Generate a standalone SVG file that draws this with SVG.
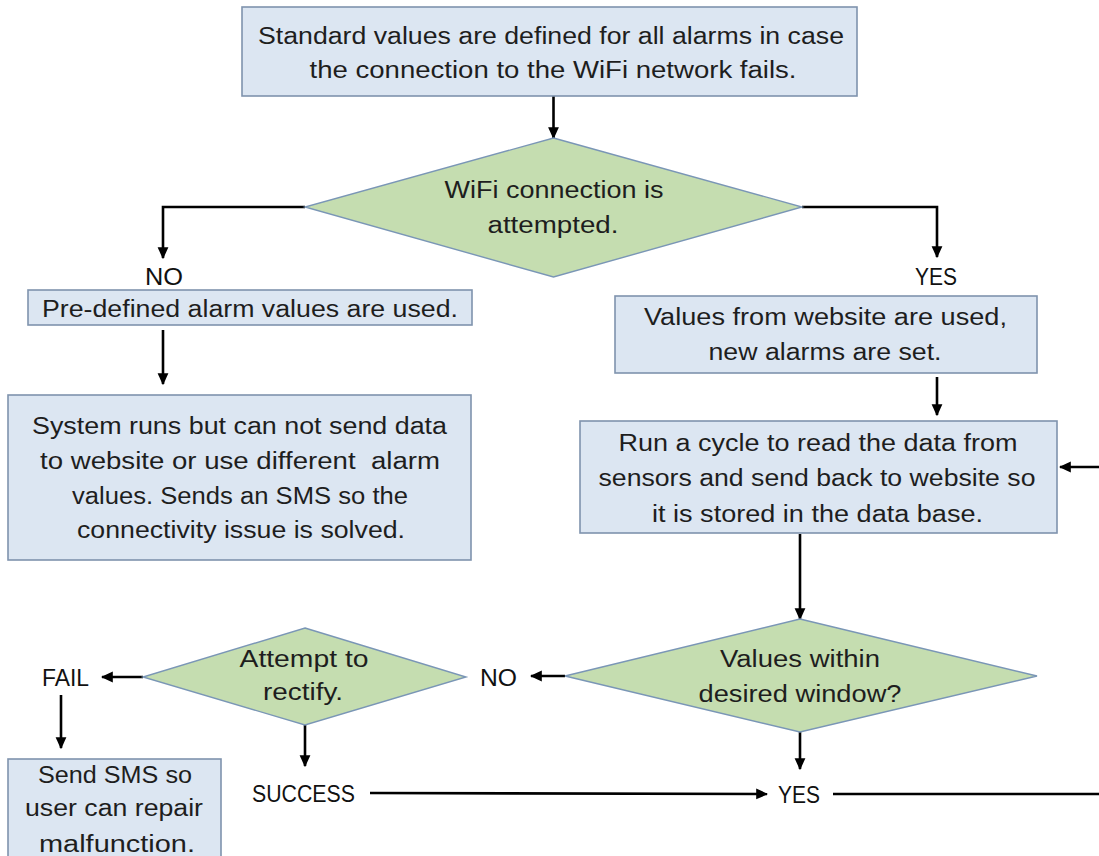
<svg xmlns="http://www.w3.org/2000/svg" width="1099" height="856" viewBox="0 0 1099 856">
<defs>
<style>
.box{fill:#dce6f2;stroke:#7f93ad;stroke-width:1.6}
.dia{fill:#c5ddb0;stroke:#7a96b6;stroke-width:1.4}
text{font-family:"Liberation Sans",Arial,sans-serif;font-size:23px;fill:#1e1e1e;text-anchor:middle}
.lbl{fill:#111}
.con{fill:none;stroke:#000;stroke-width:2.6}
.arr{marker-end:url(#ah)}
</style>
<marker id="ah" markerUnits="userSpaceOnUse" markerWidth="12" markerHeight="12" viewBox="0 0 10 10" refX="9" refY="5" orient="auto">
<path d="M0,0.5 L10,5 L0,9.5 Z" fill="#000"/>
</marker>
</defs>
<rect width="1099" height="856" fill="#ffffff"/>

<g id="connectors">
<path class="con arr" d="M553.5,96 V138"/>
<path class="con arr" d="M305,207 H163 V258"/>
<path class="con arr" d="M802,207 H937 V257"/>
<path class="con arr" d="M163,330 V384"/>
<path class="con arr" d="M937,377 V415"/>
<path class="con arr" d="M1099,467 H1060"/>
<path class="con arr" d="M800,534 V619"/>
<path class="con arr" d="M565,676 H531"/>
<path class="con arr" d="M143,677 H102"/>
<path class="con arr" d="M61,695 V748"/>
<path class="con arr" d="M305,725 V766"/>
<path class="con arr" d="M370,793 L767,794"/>
<path class="con arr" d="M800,732 V769"/>
<path class="con" d="M833,794 H1099"/>
</g>

<g id="n-standard">
<rect class="box" x="242" y="7" width="615" height="89"/>
<text x="551" y="44" textLength="586" lengthAdjust="spacingAndGlyphs">Standard values are defined for all alarms in case</text>
<text x="553" y="78" textLength="487" lengthAdjust="spacingAndGlyphs">the connection to the WiFi network fails.</text>
</g>

<g id="n-wifi">
<polygon class="dia" points="553.5,138 802,207 553.5,277 305,207"/>
<text x="554" y="198" textLength="219" lengthAdjust="spacingAndGlyphs">WiFi connection is</text>
<text x="553" y="233" textLength="131" lengthAdjust="spacingAndGlyphs">attempted.</text>
</g>

<g id="l-no1"><text class="lbl" x="164" y="285" textLength="38" lengthAdjust="spacingAndGlyphs">NO</text></g>
<g id="l-yes1"><text class="lbl" x="936" y="285" textLength="42" lengthAdjust="spacingAndGlyphs">YES</text></g>

<g id="n-predefined">
<rect class="box" x="28" y="290" width="444" height="35"/>
<text x="250" y="317" textLength="416" lengthAdjust="spacingAndGlyphs">Pre-defined alarm values are used.</text>
</g>

<g id="n-system">
<rect class="box" x="8" y="395" width="463" height="165"/>
<text x="239.5" y="434" textLength="415" lengthAdjust="spacingAndGlyphs">System runs but can not send data</text>
<text x="240" y="469" textLength="400" lengthAdjust="spacingAndGlyphs" xml:space="preserve" style="white-space:pre">to website or use different  alarm</text>
<text x="240" y="504" textLength="336" lengthAdjust="spacingAndGlyphs">values. Sends an SMS so the</text>
<text x="241" y="538" textLength="328" lengthAdjust="spacingAndGlyphs">connectivity issue is solved.</text>
</g>

<g id="n-website">
<rect class="box" x="615" y="296" width="422" height="77"/>
<text x="825.5" y="325" textLength="363" lengthAdjust="spacingAndGlyphs">Values from website are used,</text>
<text x="825" y="360" textLength="233" lengthAdjust="spacingAndGlyphs">new alarms are set.</text>
</g>

<g id="n-cycle">
<rect class="box" x="580" y="421" width="477" height="112"/>
<text x="818" y="451" textLength="399" lengthAdjust="spacingAndGlyphs">Run a cycle to read the data from</text>
<text x="817" y="486" textLength="437" lengthAdjust="spacingAndGlyphs">sensors and send back to website so</text>
<text x="817.5" y="522" textLength="331" lengthAdjust="spacingAndGlyphs">it is stored in the data base.</text>
</g>

<g id="n-window">
<polygon class="dia" points="800,619 1037,676 800,732 565,676"/>
<text x="800" y="667" textLength="160" lengthAdjust="spacingAndGlyphs">Values within</text>
<text x="800" y="702" textLength="203" lengthAdjust="spacingAndGlyphs">desired window?</text>
</g>

<g id="n-rectify">
<polygon class="dia" points="305,628 466,677 305,725 143,677"/>
<text x="304" y="667" textLength="129" lengthAdjust="spacingAndGlyphs">Attempt to</text>
<text x="303" y="700" textLength="80" lengthAdjust="spacingAndGlyphs">rectify.</text>
</g>

<g id="l-no2"><text class="lbl" x="498.5" y="686" textLength="37" lengthAdjust="spacingAndGlyphs">NO</text></g>
<g id="l-fail"><text class="lbl" x="65.5" y="686" textLength="47" lengthAdjust="spacingAndGlyphs">FAIL</text></g>
<g id="l-success"><text class="lbl" x="303.5" y="802" textLength="103" lengthAdjust="spacingAndGlyphs">SUCCESS</text></g>
<g id="l-yes2"><text class="lbl" x="799" y="803" textLength="42" lengthAdjust="spacingAndGlyphs">YES</text></g>

<g id="n-sms">
<rect class="box" x="8" y="759" width="213" height="105"/>
<text x="115" y="783" textLength="154" lengthAdjust="spacingAndGlyphs">Send SMS so</text>
<text x="114" y="816" textLength="178" lengthAdjust="spacingAndGlyphs">user can repair</text>
<text x="117" y="852" textLength="156" lengthAdjust="spacingAndGlyphs">malfunction.</text>
</g>
</svg>
